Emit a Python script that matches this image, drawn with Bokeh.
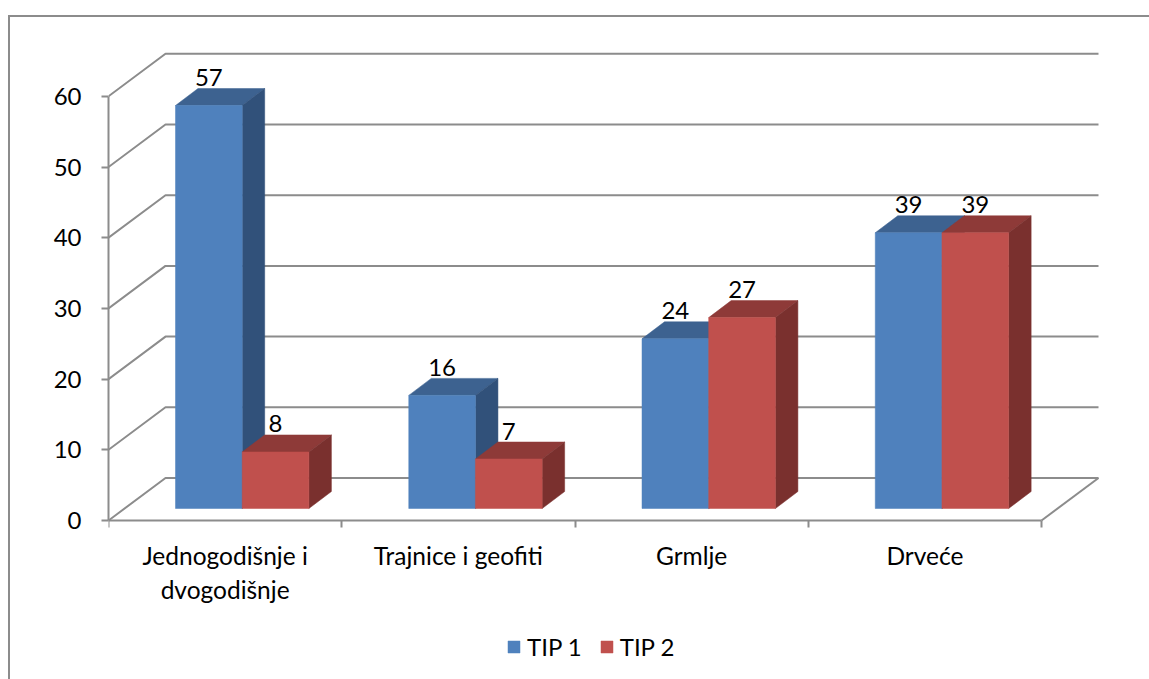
from bokeh.plotting import figure
from bokeh.embed import file_html
from bokeh.resources import INLINE
from bokeh.models import (FixedTicker, Legend, LegendItem, LinearAxis, Range1d)
from bokeh.core.properties import value

categories = ["Jednogodišnje i\ndvogodišnje", "Trajnice i geofiti", "Grmlje", "Drveće"]
tip1 = [57, 16, 24, 39]
tip2 = [8, 7, 27, 39]
series_names = ["TIP 1", "TIP 2"]
y_ticks = [0, 10, 20, 30, 40, 50, 60]

GRAY = "#8c8c8c"
FONT = "Lato"
FS = "24px"
FS_CAT = "24.5px"
BLUE = ("#4f81bd", "#3d6290", "#31517a")
RED = ("#c0504d", "#8e3a38", "#7a302e")

PX_X = 233.25
PX_Y = 7.07
LEFT, TOP = 98, 0
FW, FH_UP, FH_DOWN = 1041, 503, 159

WALL_DX, WALL_DY = 57 / PX_X, 42.5 / PX_Y
DEPTH_DX, DEPTH_DY = 22.5 / PX_X, 17 / PX_Y
BAR_X0, BAR_W = 67 / PX_X, 66.7 / PX_X
BASE = 12 / PX_Y

p = figure(output_backend="svg", toolbar_location=None,
           frame_width=FW, frame_height=FH_UP + FH_DOWN,
           x_range=Range1d(0, FW / PX_X), y_range=Range1d(-FH_DOWN / PX_Y, FH_UP / PX_Y),
           x_axis_location=None, y_axis_location=None,
           min_border_left=LEFT, min_border_right=0, min_border_top=TOP,
           min_border_bottom=0, outline_line_color=None,
           background_fill_color="white", border_fill_color="white",
           margin=(15, 0, 0, 8),
           styles={"border-left": "2px solid #8c8c8c", "border-top": "2px solid #8c8c8c"})
p.grid.visible = False

n = len(categories)

# back wall and floor
for t in y_ticks:
    p.line([0, WALL_DX, n + WALL_DX], [t, t + WALL_DY, t + WALL_DY],
           line_color=GRAY, line_width=2)
p.line([n, n + WALL_DX], [0, WALL_DY], line_color=GRAY, line_width=2)

legend_rs = [None, None]
for i in range(n):
    for s, (vals, col) in enumerate(((tip1, BLUE), (tip2, RED))):
        v = vals[i]
        x0 = i + BAR_X0 + s * BAR_W
        x1 = x0 + BAR_W
        y0 = BASE
        y1 = BASE + v
        p.patch([x0, x0 + DEPTH_DX, x1 + DEPTH_DX, x1],
                [y1, y1 + DEPTH_DY, y1 + DEPTH_DY, y1], fill_color=col[1], line_color=col[1], line_width=0.5)
        p.patch([x1, x1 + DEPTH_DX, x1 + DEPTH_DX, x1],
                [y0, y0 + DEPTH_DY, y1 + DEPTH_DY, y1], fill_color=col[2], line_color=col[2], line_width=0.5)
        r = p.quad(left=[x0], right=[x1], bottom=[y0], top=[y1], fill_color=col[0], line_color=col[0], line_width=0.5)
        if legend_rs[s] is None:
            legend_rs[s] = r
        p.text([(x0 + x1) / 2], [y1 + DEPTH_DY + 11 / PX_Y], text=[str(v)],
               text_font=value(FONT), text_font_size=FS, text_color="black",
               text_align="center", text_baseline="alphabetic")

# axes
yax = LinearAxis(ticker=FixedTicker(ticks=y_ticks), bounds=(0, 60))
yax.axis_line_color = GRAY
yax.axis_line_width = 2
yax.major_tick_line_color = GRAY
yax.major_tick_line_width = 2
yax.major_tick_out = 7
yax.major_tick_in = 0
yax.minor_tick_line_color = None
yax.major_label_text_font = FONT
yax.major_label_text_font_size = FS
yax.major_label_text_color = "black"
yax.major_label_standoff = 20
p.add_layout(yax, "left")

centers = [i + 0.5 for i in range(n)]
xax = LinearAxis(ticker=FixedTicker(ticks=centers, minor_ticks=list(range(n + 1))),
                 bounds=(0, n), fixed_location=0)
xax.major_label_overrides = {c: l for c, l in zip(centers, categories)}
xax.axis_line_color = GRAY
xax.axis_line_width = 2
xax.major_tick_line_color = None
xax.minor_tick_line_color = GRAY
xax.minor_tick_line_width = 2
xax.minor_tick_out = 7
xax.minor_tick_in = 0
xax.major_label_text_font = FONT
xax.major_label_text_font_size = FS_CAT
xax.major_label_text_color = "black"
xax.major_label_standoff = 13
p.add_layout(xax, "below")

legend = Legend(items=[LegendItem(label=series_names[k], renderers=[legend_rs[k]]) for k in range(2)],
                orientation="horizontal", location=(398, 18), border_line_color=None,
                background_fill_alpha=0, glyph_width=15, glyph_height=15,
                label_text_font=FONT, label_text_font_size=FS, label_text_color="black",
                label_standoff=6, spacing=17, padding=0, margin=0)
p.add_layout(legend)

open("out.html", "w").write(file_html(p, INLINE))
